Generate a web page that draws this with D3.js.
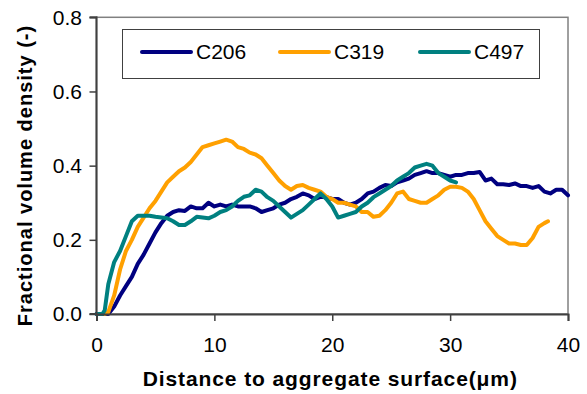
<!DOCTYPE html>
<html><head><meta charset="utf-8">
<script src="https://cdn.jsdelivr.net/npm/d3@7"></script>
<style>
html,body{margin:0;padding:0;background:#fff;}
svg{display:block;font-family:"Liberation Sans",Arial,sans-serif;}
</style></head>
<body>
<svg id="chart" width="587" height="394"></svg>
<script>
const seriesNames = ["C206", "C319", "C497"];
const seriesColors = ["#000080", "#FFA000", "#008080"];

const xC206 = [0,0.5,1,1.5,2,2.5,3,3.5,4,4.5,5,5.5,6,6.5,7,7.5,8,8.5,9,9.5,10,10.5,11,11.5,12,12.5,13,13.5,14,14.5,15,15.5,16,16.5,17,17.5,18,18.5,19,19.5,20,20.5,21,21.5,22,22.5,23,23.5,24,24.5,25,25.5,26,26.5,27,27.5,28,28.5,29,29.5,30,30.5,31,31.5,32,32.5,33,33.5,34,34.5,35,35.5,36,36.5,37,37.5,38,38.5,39,39.5,40];
const yC206 = [0,0,0,0.02,0.05,0.075,0.10,0.135,0.16,0.19,0.22,0.245,0.265,0.275,0.28,0.278,0.29,0.285,0.285,0.30,0.29,0.295,0.29,0.295,0.29,0.29,0.29,0.285,0.275,0.28,0.285,0.295,0.30,0.31,0.316,0.325,0.32,0.31,0.316,0.315,0.31,0.31,0.30,0.295,0.30,0.31,0.325,0.33,0.34,0.348,0.345,0.355,0.36,0.365,0.375,0.38,0.385,0.38,0.38,0.375,0.37,0.375,0.375,0.38,0.38,0.383,0.36,0.365,0.35,0.35,0.348,0.352,0.345,0.345,0.34,0.345,0.33,0.325,0.335,0.335,0.32];

const xC319 = [0.7,1,1.5,2,2.5,3,3.5,4,4.5,5,5.5,6,6.5,7,7.5,8,8.5,9,9.5,10,10.5,11,11.5,12,12.5,13,13.5,14,14.5,15,15.5,16,16.5,17,17.5,18,18.5,19,19.5,20,20.5,21,21.5,22,22.5,23,23.5,24,24.5,25,25.5,26,26.5,27,27.5,28,28.5,29,29.5,30,30.5,31,31.5,32,32.5,33,33.5,34,34.5,35,35.5,36,36.5,37,37.5,38,38.3];
const yC319 = [0,0.005,0.05,0.12,0.17,0.20,0.235,0.26,0.285,0.305,0.33,0.355,0.37,0.385,0.395,0.41,0.43,0.45,0.455,0.46,0.465,0.47,0.465,0.45,0.445,0.435,0.43,0.42,0.40,0.38,0.36,0.345,0.335,0.345,0.348,0.34,0.335,0.33,0.316,0.31,0.30,0.30,0.295,0.29,0.275,0.275,0.262,0.265,0.28,0.30,0.325,0.33,0.31,0.305,0.30,0.30,0.31,0.32,0.335,0.343,0.343,0.34,0.33,0.31,0.28,0.25,0.23,0.21,0.20,0.19,0.19,0.186,0.186,0.205,0.235,0.245,0.25];

const xC497 = [0,0.5,0.7,1,1.5,2,2.5,3,3.5,4,4.5,5,5.5,6,6.5,7,7.5,8,8.5,9,9.5,10,10.5,11,11.5,12,12.5,13,13.5,14,14.5,15,15.5,16,16.5,17,17.5,18,18.5,19,19.5,20,20.5,21,21.5,22,22.5,23,23.5,24,24.5,25,25.5,26,26.5,27,27.5,28,28.5,29,29.5,30,30.5];
const yC497 = [0,0,0.01,0.08,0.14,0.17,0.21,0.25,0.265,0.265,0.265,0.262,0.26,0.258,0.25,0.24,0.24,0.25,0.262,0.26,0.258,0.265,0.275,0.28,0.29,0.305,0.316,0.32,0.335,0.33,0.315,0.305,0.29,0.275,0.26,0.27,0.28,0.295,0.31,0.325,0.31,0.29,0.26,0.265,0.27,0.275,0.29,0.30,0.315,0.325,0.335,0.345,0.36,0.37,0.38,0.395,0.40,0.405,0.40,0.38,0.37,0.36,0.355];

const xTicks = [0,10,20,30,40];
const yTicks = [0,0.2,0.4,0.6,0.8];
const xTitle = "Distance to aggregate surface(\u03bcm)";
const yTitle = "Fractional volume density (-)";

const svg = d3.select("#chart");
const L = 96.5, R = 568, T = 17.3, B = 314;
const x = d3.scaleLinear().domain([0,40]).range([L,R]);
const y = d3.scaleLinear().domain([0,0.8]).range([B,T]);

// plot border
svg.append("rect").attr("x",L).attr("y",T).attr("width",R-L).attr("height",B-T)
  .attr("fill","none").attr("stroke","#808080").attr("stroke-width",1.5);

const data = [
  xC206.map((d,i)=>[d,yC206[i]]),
  xC319.map((d,i)=>[d,yC319[i]]),
  xC497.map((d,i)=>[d,yC497[i]])
];
const line = d3.line().x(d=>x(d[0])).y(d=>y(d[1]));
data.forEach((s,i)=>{
  svg.append("path").attr("d",line(s)).attr("fill","none")
    .attr("stroke",seriesColors[i]).attr("stroke-width",4)
    .attr("stroke-linejoin","round").attr("stroke-linecap","round");
});

// axes
const xAxis = d3.axisBottom(x).tickValues(xTicks).tickSize(7).tickPadding(16).tickFormat(d3.format("d"));
const gx = svg.append("g").attr("transform",`translate(0,${B})`).call(xAxis);
const yAxis = d3.axisLeft(y).tickValues(yTicks).tickSize(7).tickPadding(7.5).tickFormat(d3.format(".1f"));
const gy = svg.append("g").attr("transform",`translate(${L},0)`).call(yAxis);
[gx,gy].forEach(g=>{
  g.select(".domain").attr("stroke","#404040").attr("stroke-width",2);
  g.selectAll(".tick line").attr("stroke","#404040").attr("stroke-width",1.5);
  g.selectAll("text").attr("font-size",21).attr("fill","#000")
    .attr("font-family","'Liberation Sans',Arial,sans-serif");
});
gy.selectAll(".domain").attr("d",`M-7,${B}H0V${T}H-7`);

// titles
svg.append("text").attr("x",(L+R)/2-2).attr("y",386).attr("text-anchor","middle")
  .attr("font-size",21).attr("font-weight","bold").attr("letter-spacing",0.9).text(xTitle);
svg.append("text").attr("transform",`translate(32,175.5) rotate(-90)`)
  .attr("text-anchor","middle").attr("font-size",20).attr("font-weight","bold")
  .attr("letter-spacing",1).text(yTitle);

// legend
const lg = svg.append("g");
lg.append("rect").attr("x",122.5).attr("y",29.5).attr("width",417).attr("height",49)
  .attr("fill","#fff").attr("stroke","#404040").attr("stroke-width",1);
const legX = [142, 280, 420];
seriesNames.forEach((n,i)=>{
  lg.append("line").attr("x1",legX[i]).attr("x2",legX[i]+49).attr("y1",52).attr("y2",52)
    .attr("stroke",seriesColors[i]).attr("stroke-width",4).attr("stroke-linecap","round");
  lg.append("text").attr("x",legX[i]+54).attr("y",59).attr("font-size",21).text(n);
});
</script>
</body></html>
